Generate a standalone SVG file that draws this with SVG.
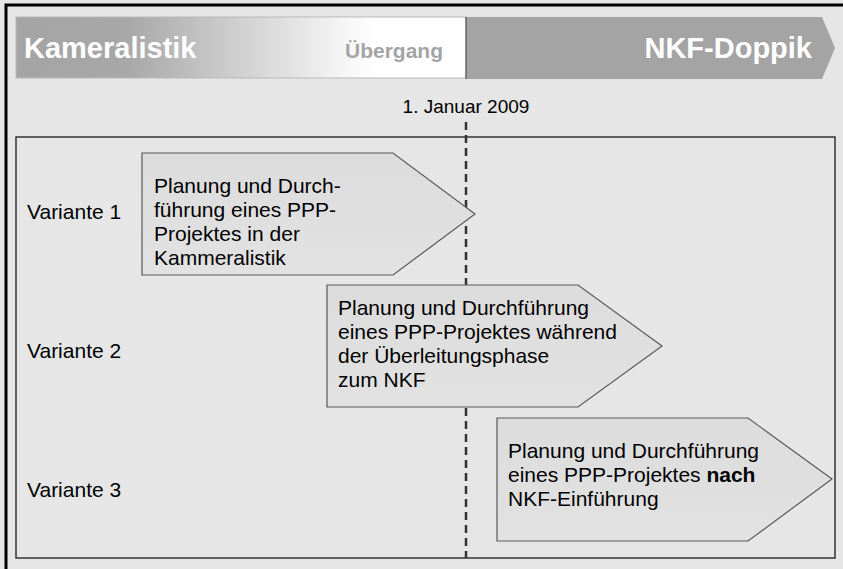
<svg xmlns="http://www.w3.org/2000/svg" width="843" height="569" viewBox="0 0 843 569">
<defs>
<linearGradient id="hdr" x1="16" y1="0" x2="466" y2="0" gradientUnits="userSpaceOnUse">
<stop offset="0" stop-color="#a4a4a4"/>
<stop offset="0.25" stop-color="#a8a8a8"/>
<stop offset="0.72" stop-color="#f4f4f4"/>
<stop offset="0.8" stop-color="#ffffff"/>
<stop offset="1" stop-color="#ffffff"/>
</linearGradient>
<linearGradient id="pent" x1="0" y1="0" x2="0" y2="1">
<stop offset="0" stop-color="#dcdcdc"/>
<stop offset="1" stop-color="#e2e2e2"/>
</linearGradient>
<style>
text{font-family:"Liberation Sans",Arial,sans-serif;}
.lbl{font-size:21px;fill:#000;}
.pent{fill:url(#pent);stroke:#595959;stroke-width:1.2;}
.hb{font-weight:bold;font-size:29px;fill:#fff;}
</style>
</defs>
<rect x="0" y="0" width="843" height="569" fill="#e6e6e6"/>
<path d="M6,569 V5 H843" fill="none" stroke="#000" stroke-width="3"/>
<g id="header">
<rect x="16" y="17" width="450" height="61" fill="url(#hdr)" stroke="#b8b8b8" stroke-width="1"/>
<path d="M466,17 H822 L835,48 L822,79 H466 Z" fill="#a4a4a4"/>
<line x1="466" y1="17" x2="466" y2="79" stroke="#555" stroke-width="1.2"/>
<text class="hb" x="24" y="58">Kameralistik</text>
<text x="345" y="58" font-weight="bold" font-size="21" fill="#a4a4a4">Übergang</text>
<text class="hb" x="812" y="58" text-anchor="end">NKF-Doppik</text>
</g>
<g id="date">
<text x="466" y="113" font-size="19" text-anchor="middle" fill="#000">1. Januar 2009</text>
</g>
<g id="frame">
<rect x="16" y="137" width="819" height="421" fill="none" stroke="#333" stroke-width="1.5"/>
</g>
<g id="connectors">
<line x1="466" y1="122" x2="466" y2="558" stroke="#333" stroke-width="2.5" stroke-dasharray="8,5"/>
</g>
<g id="v1">
<text class="lbl" x="27" y="219">Variante 1</text>
<path class="pent" d="M142,153 H393 L475,214 L393,275 H142 Z"/>
<text class="lbl" x="154" y="193">Planung und Durch-</text>
<text class="lbl" x="154" y="217">führung eines PPP-</text>
<text class="lbl" x="154" y="241">Projektes in der</text>
<text class="lbl" x="154" y="265">Kammeralistik</text>
</g>
<g id="v2">
<text class="lbl" x="27" y="358">Variante 2</text>
<path class="pent" d="M327,285 H578 L662,346 L578,407 H327 Z"/>
<text class="lbl" x="338" y="315">Planung und Durchführung</text>
<text class="lbl" x="338" y="339">eines PPP-Projektes während</text>
<text class="lbl" x="338" y="363">der Überleitungsphase</text>
<text class="lbl" x="338" y="387">zum NKF</text>
</g>
<g id="v3">
<text class="lbl" x="27" y="497">Variante 3</text>
<path class="pent" d="M497,418 H748 L832,479 L748,541 H497 Z"/>
<text class="lbl" x="508" y="458">Planung und Durchführung</text>
<text class="lbl" x="508" y="482">eines PPP-Projektes <tspan font-weight="bold">nach</tspan></text>
<text class="lbl" x="508" y="506">NKF-Einführung</text>
</g>
</svg>
